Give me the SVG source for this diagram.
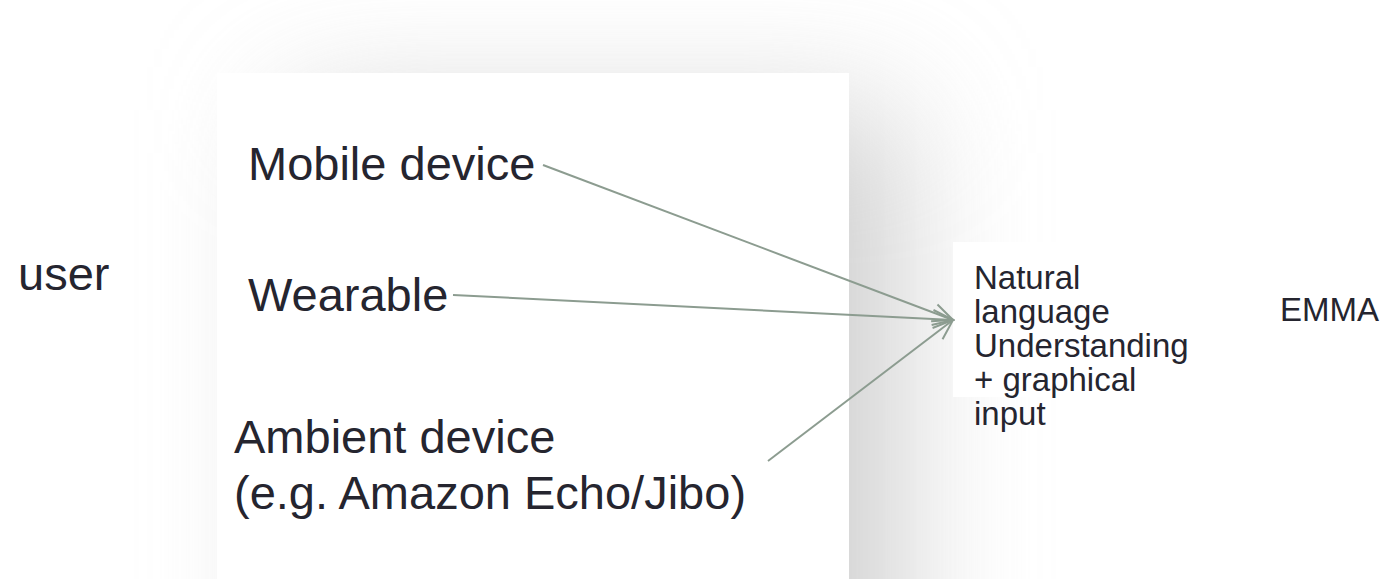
<svg xmlns="http://www.w3.org/2000/svg" width="1391" height="579" viewBox="0 0 1391 579">
  <style>
    .big { font-family: "Liberation Sans", Arial, sans-serif; font-size: 47px; fill: #25252f; }
    .small { font-family: "Liberation Sans", Arial, sans-serif; font-size: 33px; fill: #25252f; }
    .conn { stroke: #8c9c90; stroke-width: 2; fill: none; }
  </style>
  <defs>
    <filter id="shadowBlur" filterUnits="userSpaceOnUse" x="-300" y="-300" width="2000" height="1200">
      <feGaussianBlur stdDeviation="65"/>
    </filter>
    <marker id="arrow" viewBox="0 0 24 24" refX="22" refY="12" markerWidth="24" markerHeight="24" markerUnits="userSpaceOnUse" orient="auto">
      <path d="M2,3 L22,12 L2,21" fill="none" stroke="#8c9c90" stroke-width="2"/>
    </marker>
  </defs>
  <rect width="1391" height="579" fill="#ffffff"/>
  <g id="panel">
    <rect x="290" y="110" width="610" height="640" fill="#cfcfcf" filter="url(#shadowBlur)"/>
    <rect x="217" y="73" width="632" height="506" fill="#ffffff"/>
  </g>
  <g id="user">
    <text class="big" x="18" y="290">user</text>
  </g>
  <g id="mobile">
    <text class="big" x="248" y="180">Mobile device</text>
  </g>
  <g id="wearable">
    <text class="big" x="248" y="311">Wearable</text>
  </g>
  <g id="ambient">
    <text class="big" x="234" y="453">Ambient device</text>
    <text class="big" x="234" y="509">(e.g. Amazon Echo/Jibo)</text>
  </g>
  <g id="nlu">
    <rect x="953" y="242" width="270" height="155" fill="#ffffff"/>
    <text class="small" x="974" y="289">Natural</text>
    <text class="small" x="974" y="323">language</text>
    <text class="small" x="974" y="357">Understanding</text>
    <text class="small" x="974" y="391">+ graphical</text>
    <text class="small" x="974" y="425">input</text>
  </g>
  <g id="emma">
    <text class="small" x="1280" y="321">EMMA</text>
  </g>
  <g id="connectors">
    <line class="conn" x1="543" y1="165" x2="953" y2="320" marker-end="url(#arrow)"/>
    <line class="conn" x1="453" y1="295" x2="953" y2="320" marker-end="url(#arrow)"/>
    <line class="conn" x1="768" y1="461" x2="953" y2="320" marker-end="url(#arrow)"/>
  </g>
</svg>
